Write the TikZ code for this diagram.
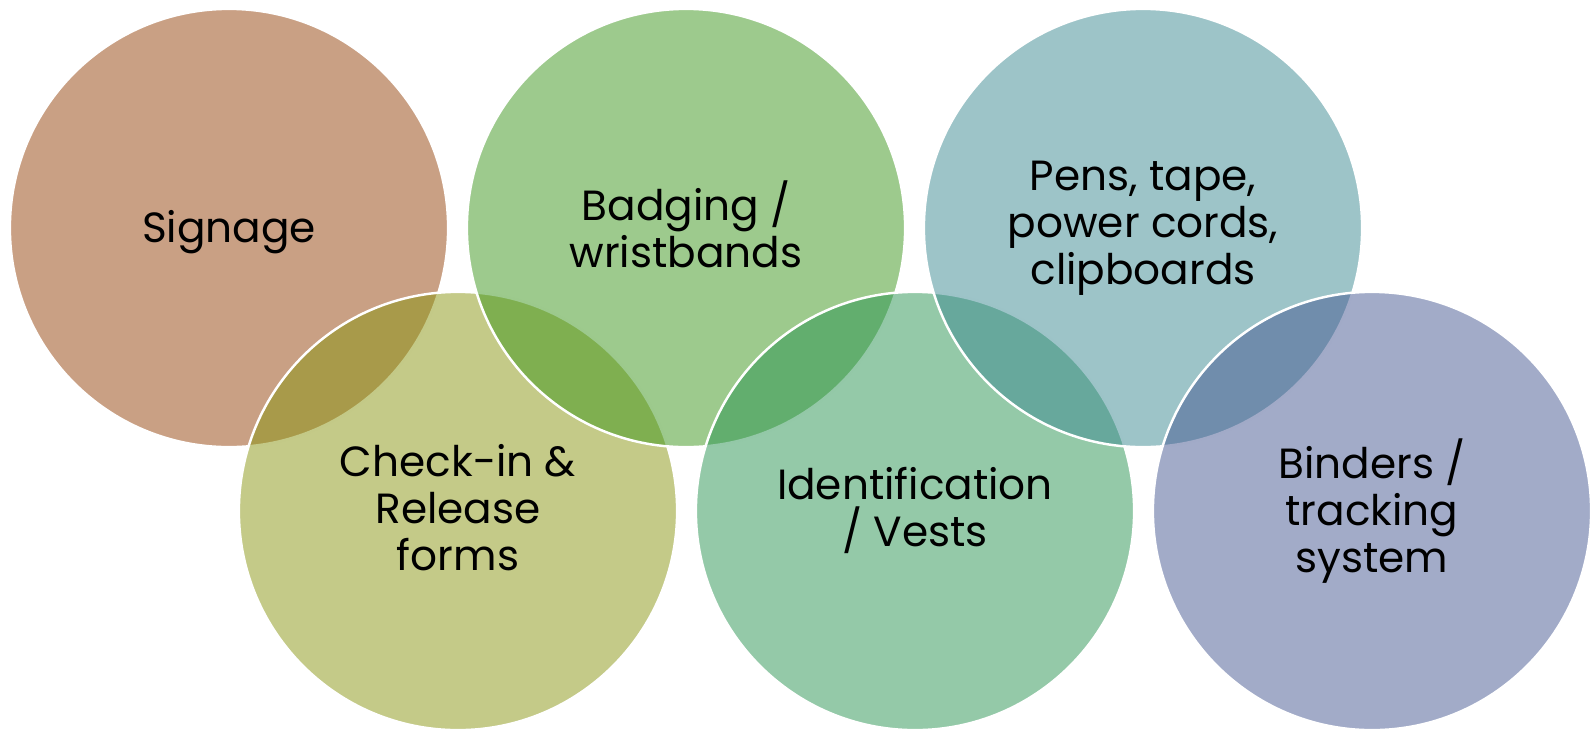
\documentclass[tikz,border=0pt]{standalone}
\usepackage{fontspec}
\setmainfont{Poppins}

\definecolor{signagecol}{RGB}{147,65,9}
\definecolor{checkincol}{RGB}{137,149,17}
\definecolor{badgingcol}{RGB}{59,149,27}
\definecolor{identcol}{RGB}{41,147,81}
\definecolor{penscol}{RGB}{59,137,145}
\definecolor{binderscol}{RGB}{69,87,145}

\newcommand{\ringstrut}{\vrule width 0pt height 0.84\baselineskip depth 0.16\baselineskip}

\begin{document}
\begin{tikzpicture}[x=0.01cm, y=-0.01cm,
    ring/.style={shape=circle, draw=white, line width=0.7pt, fill opacity=0.5,
    text opacity=1, inner sep=0, minimum size=4.38cm, align=center,
    font=\fontsize{12}{13.4}\selectfont,
    execute at begin node=\ringstrut, execute at end node=\ringstrut}]

    \useasboundingbox (0, 0) rectangle (1591, 730);

    % Upper row and lower row, drawn in zigzag order
    \node[ring, fill=signagecol] (signage) at (229, 228) {Signage};
    \node[ring, fill=checkincol] (checkin) at (458, 511) {Check-in \&\\Release\\forms};
    \node[ring, fill=badgingcol] (badging) at (686, 228) {Badging /\\wristbands};
    \node[ring, fill=identcol] (ident) at (915, 511) {Identification\\/ Vests};
    \node[ring, fill=penscol] (pens) at (1143, 228) {Pens, tape,\\power cords,\\clipboards};
    \node[ring, fill=binderscol] (binders) at (1372, 511) {Binders /\\tracking\\system};

\end{tikzpicture}
\end{document}
